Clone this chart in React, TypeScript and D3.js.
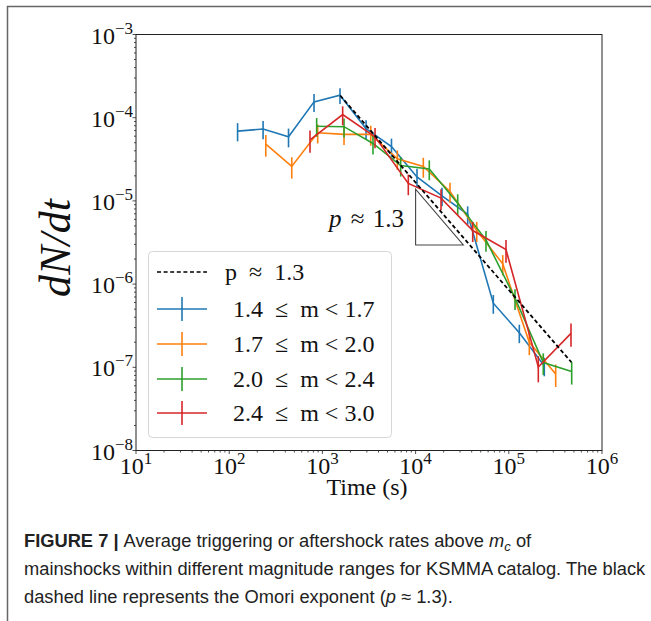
import React, { useEffect, useRef } from "react";
import * as d3 from "d3";

// (time in s, rate dN/dt)
const blueT = [123, 231, 433, 813, 1545, 2940, 5510, 10350, 19200, 36200, 68200, 129700, 240400];
const blueRate = [6.9e-5, 7.3e-5, 5.9e-5, 1.55e-4, 1.86e-4, 7.4e-5, 4.5e-5, 1.94e-5, 1.15e-5, 6.9e-6, 5.9e-7, 2.6e-7, 1.04e-7];
const blueErr = [1.7e-5, 1.8e-5, 1.5e-5, 3.8e-5, 4.0e-5, 1.9e-5, 1.1e-5, 5e-6, 2.9e-6, 1.7e-6, 1.5e-7, 6.5e-8, 2.6e-8];

const orangeT = [247, 469, 890, 1706, 3300, 6370, 12100, 23400, 45300, 86100, 166000, 318500];
const orangeRate = [4.8e-5, 2.6e-5, 6.6e-5, 6.3e-5, 6.3e-5, 3.2e-5, 2.6e-5, 1.3e-5, 4.4e-6, 1.75e-6, 2.0e-7, 8.3e-8];
const orangeErr = [1.4e-5, 7.5e-6, 1.7e-5, 1.6e-5, 1.7e-5, 8.5e-6, 7e-6, 3.5e-6, 1.2e-6, 4.8e-7, 6e-8, 2.5e-8];

const greenT = [868, 1706, 3490, 6920, 14030, 28300, 56900, 116600, 234400, 473000];
const greenRate = [7.9e-5, 7.8e-5, 4.9e-5, 2.66e-5, 2.42e-5, 9.4e-6, 3.4e-6, 6.8e-7, 1.14e-7, 8.9e-8];
const greenErr = [2.0e-5, 2.0e-5, 1.3e-5, 7e-6, 6.5e-6, 2.6e-6, 9.5e-7, 1.9e-7, 3.3e-8, 2.7e-8];

const redT = [736, 1650, 3670, 8350, 18740, 41000, 93300, 207300, 464800];
const redRate = [5.4e-5, 1.09e-4, 5.9e-5, 1.62e-5, 1.08e-5, 4.4e-6, 2.6e-6, 1.01e-7, 2.56e-7];
const redErr = [1.6e-5, 2.8e-5, 1.6e-5, 4.5e-6, 3e-6, 1.2e-6, 8e-7, 3.5e-8, 8e-8];

// Omori fit line and the slope triangle
const omoriT = [1550, 470000];
const omoriRate = [1.85e-4, 1.15e-7];
const triT = [10000, 32500];
const triRate = [1.38e-5, 2.95e-6];

const seriesLabels = ["1.4  \u2264  m < 1.7", "1.7  \u2264  m < 2.0", "2.0  \u2264  m < 2.4", "2.4  \u2264  m < 3.0"];
const seriesColors = ["#1f77b4", "#ff7f0e", "#2ca02c", "#d62728"];
const xTickExps = [1, 2, 3, 4, 5, 6];
const yTickExps = [-3, -4, -5, -6, -7, -8];

const series = [
  { t: blueT, v: blueRate, e: blueErr },
  { t: orangeT, v: orangeRate, e: orangeErr },
  { t: greenT, v: greenRate, e: greenErr },
  { t: redT, v: redRate, e: redErr },
];

const SERIF = "'Liberation Serif', 'Times New Roman', serif";
const SANS = "'Liberation Sans', Arial, sans-serif";

const App = () => {
  const ref = useRef<SVGSVGElement>(null);

  useEffect(() => {
    const svg = d3.select(ref.current);
    svg.selectAll("*").remove();

    const W = 651;
    const H = 621;
    svg.attr("width", W).attr("height", H);
    svg.append("rect").attr("width", W).attr("height", H).attr("fill", "#fff");

    // outer figure frame (top and left only visible)
    svg.append("path").attr("d", `M7.5,${H} L7.5,6.5 L${W},6.5`).attr("fill", "none").attr("stroke", "#666").attr("stroke-width", 1.5);

    const x = d3.scaleLog().domain([10, 1e6]).range([136, 602]);
    const y = d3.scaleLog().domain([1e-8, 1e-3]).range([450.5, 34.5]);

    // minor ticks
    const minors: number[] = [];
    for (let e = 1; e < 6; e++) for (let k = 2; k <= 9; k++) minors.push(k * Math.pow(10, e));
    const yMinors: number[] = [];
    for (let e = -8; e < -3; e++) for (let k = 2; k <= 9; k++) yMinors.push(k * Math.pow(10, e));

    const ax = svg.append("g").attr("stroke", "#222").attr("stroke-width", 0.8);
    ax.selectAll(".xm").data(minors).join("line")
      .attr("x1", (d) => x(d)).attr("x2", (d) => x(d)).attr("y1", 450.5).attr("y2", 452.5);
    ax.selectAll(".ym").data(yMinors).join("line")
      .attr("y1", (d) => y(d)).attr("y2", (d) => y(d)).attr("x1", 136).attr("x2", 134);
    ax.selectAll(".xM").data(xTickExps).join("line")
      .attr("x1", (d) => x(Math.pow(10, d))).attr("x2", (d) => x(Math.pow(10, d))).attr("y1", 450.5).attr("y2", 454);
    ax.selectAll(".yM").data(yTickExps).join("line")
      .attr("y1", (d) => y(Math.pow(10, d))).attr("y2", (d) => y(Math.pow(10, d))).attr("x1", 136).attr("x2", 132.5);

    // x tick labels
    xTickExps.forEach((e) => {
      const t = svg.append("text").attr("x", x(Math.pow(10, e))).attr("y", 474).attr("text-anchor", "middle")
        .attr("font-family", SERIF).attr("font-size", 24).attr("fill", "#111");
      t.append("tspan").text("10");
      t.append("tspan").attr("font-size", 17).attr("dy", -10).text(String(e));
    });
    // y tick labels
    yTickExps.forEach((e) => {
      const t = svg.append("text").attr("x", 133).attr("y", y(Math.pow(10, e)) + 9).attr("text-anchor", "end")
        .attr("font-family", SERIF).attr("font-size", 24).attr("fill", "#111");
      t.append("tspan").text("10");
      t.append("tspan").attr("font-size", 17).attr("dy", -10).text("\u2212" + Math.abs(e));
    });

    svg.append("text").attr("x", 367).attr("y", 495).attr("text-anchor", "middle")
      .attr("font-family", SERIF).attr("font-size", 24).attr("fill", "#111").text("Time (s)");

    svg.append("text").attr("transform", "translate(70,248) rotate(-90)").attr("text-anchor", "middle")
      .attr("font-family", SERIF).attr("font-style", "italic").attr("font-size", 44).attr("fill", "#111").text("dN/dt");

    // data
    const plot = svg.append("g");
    series.forEach((s, i) => {
      const pts = s.t.map((t, j) => ({ t, v: s.v[j], e: s.e[j] }));
      const line = d3.line<{ t: number; v: number }>().x((d) => x(d.t)).y((d) => y(d.v));
      const g = plot.append("g").attr("stroke", seriesColors[i]).attr("fill", "none").attr("stroke-width", 1.6);
      g.selectAll("line").data(pts).join("line")
        .attr("x1", (d) => x(d.t)).attr("x2", (d) => x(d.t))
        .attr("y1", (d) => y(d.v + d.e)).attr("y2", (d) => y(d.v - d.e));
      g.append("path").datum(pts).attr("d", line);
    });

    plot.append("path")
      .attr("d", `M${x(triT[0])},${y(triRate[0])} L${x(triT[0])},${y(triRate[1])} L${x(triT[1])},${y(triRate[1])} Z`)
      .attr("fill", "none").attr("stroke", "#444").attr("stroke-width", 1.1);

    plot.append("line")
      .attr("x1", x(omoriT[0])).attr("y1", y(omoriRate[0])).attr("x2", x(omoriT[1])).attr("y2", y(omoriRate[1]))
      .attr("stroke", "#000").attr("stroke-width", 1.8).attr("stroke-dasharray", "4,2.6");

    // slope annotation, right edge just left of the triangle
    const ann = svg.append("text").attr("x", x(7500)).attr("y", y(4.9e-6)).attr("text-anchor", "end")
      .attr("font-family", SERIF).attr("font-size", 25).attr("fill", "#111").style("white-space", "pre");
    ann.append("tspan").attr("font-style", "italic").text("p");
    ann.append("tspan").attr("dx", 3).text(" \u2248 ");
    ann.append("tspan").attr("dx", 2).text("1.3");

    // axes frame
    svg.append("rect").attr("x", 136).attr("y", 34.5).attr("width", 466).attr("height", 416)
      .attr("fill", "none").attr("stroke", "#222").attr("stroke-width", 1);

    // legend
    const lg = svg.append("g");
    lg.append("rect").attr("x", 148.5).attr("y", 251.5).attr("width", 243).attr("height", 186).attr("rx", 4)
      .attr("fill", "#fff").attr("fill-opacity", 0.8).attr("stroke", "#d6d6d6");
    const rows = [272, 309, 344, 379, 413];
    lg.append("line").attr("x1", 157).attr("x2", 207).attr("y1", rows[0]).attr("y2", rows[0])
      .attr("stroke", "#000").attr("stroke-width", 1.6).attr("stroke-dasharray", "4,2.6");
    lg.append("text").attr("x", 225).attr("y", rows[0] + 8).attr("font-family", SERIF).attr("font-size", 24)
      .attr("fill", "#111").style("white-space", "pre").text("p  \u2248  1.3");
    seriesLabels.forEach((lab, i) => {
      const ry = rows[i + 1];
      lg.append("line").attr("x1", 157).attr("x2", 207).attr("y1", ry).attr("y2", ry)
        .attr("stroke", seriesColors[i]).attr("stroke-width", 1.6);
      lg.append("line").attr("x1", 182).attr("x2", 182).attr("y1", ry - 12).attr("y2", ry + 12)
        .attr("stroke", seriesColors[i]).attr("stroke-width", 1.6);
      lg.append("text").attr("x", 233).attr("y", ry + 8).attr("font-family", SERIF).attr("font-size", 24)
        .attr("fill", "#111").style("white-space", "pre").text(lab);
    });

    // caption
    const cap = svg.append("g").attr("font-family", SANS).attr("font-size", 18.3).attr("fill", "#222");
    const l1 = cap.append("text").attr("x", 24).attr("y", 547);
    l1.append("tspan").attr("font-weight", "bold").text("FIGURE 7 | ");
    l1.append("tspan").text("Average triggering or aftershock rates above ");
    l1.append("tspan").attr("font-style", "italic").text("m");
    l1.append("tspan").attr("font-style", "italic").attr("font-size", 13).attr("dy", 4).text("c");
    l1.append("tspan").attr("dy", -4).text(" of");
    cap.append("text").attr("x", 24).attr("y", 575)
      .text("mainshocks within different magnitude ranges for KSMMA catalog. The black");
    const l3 = cap.append("text").attr("x", 24).attr("y", 603);
    l3.append("tspan").text("dashed line represents the Omori exponent (");
    l3.append("tspan").attr("font-style", "italic").text("p");
    l3.append("tspan").text(" \u2248 1.3).");
  }, []);

  return <svg ref={ref} style={{ position: "absolute", left: 0, top: 0, display: "block" }}></svg>;
};

export default App;
